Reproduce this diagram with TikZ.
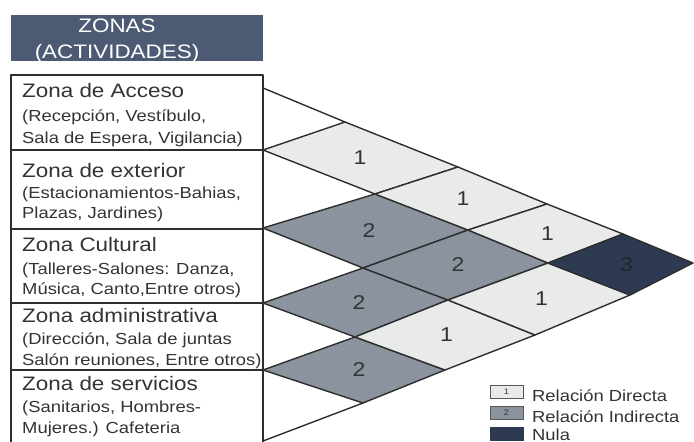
\documentclass[tikz,border=0pt]{standalone}
\usepackage{fontspec}
\setmainfont[FakeStretch=1.15]{Liberation Sans}
\usetikzlibrary{calc}

\definecolor{headblue}{HTML}{4D5A73}
\definecolor{relone}{HTML}{E9EBEA}
\definecolor{reltwo}{HTML}{8B939F}
\definecolor{relthree}{HTML}{2E3A52}
\definecolor{lineg}{HTML}{2E2E2E}
\definecolor{txtg}{HTML}{333333}

\tikzset{
  grid line/.style={draw=lineg, line width=1.4pt, line join=round},
  rel1/.style={grid line, fill=relone},
  rel2/.style={grid line, fill=reltwo},
  rel3/.style={grid line, fill=relthree},
  zona/.style={anchor=base west, inner sep=0pt, text=txtg, font=\fontsize{19.5}{22}\selectfont},
  desc/.style={anchor=base west, inner sep=0pt, text=txtg, font=\fontsize{16}{19}\selectfont},
  num/.style={inner sep=0pt, text=txtg, font=\fontsize{20}{22}\selectfont},
  head/.style={anchor=base, inner sep=0pt, text=white, font=\fontsize{19.5}{22}\selectfont},
  legbox/.style={draw=lineg!80, line width=0.9pt},
  legnum/.style={inner sep=0pt, text=txtg, font=\fontsize{8}{9}\selectfont},
}

\begin{document}
\begin{tikzpicture}[x=1pt, y=-1pt]
        \useasboundingbox (0,0) rectangle (694,442);
        \clip (0,0) rectangle (694,442);

        % --- Header ---
        \fill[headblue] (11,15) rectangle (263,61);
        \node[head] (tit1) at (117,32) {ZONAS};
        \node[head] (tit2) at (117,58) {(ACTIVIDADES)};

        % --- Zone boxes ---
        \draw[grid line] (11,460) -- (11,75) -- (263,75) -- (263,460);
        \foreach \y in {150,229,303,370}
            \draw[grid line] (11,\y) -- (263,\y);

        % Zona 1
        \node[zona] (z1) at (22,97) {Zona de Acceso};
        \node[desc] (z1a) at (22,121) {(Recepción, Vestíbulo,};
        \node[desc] (z1b) at (22,143) {Sala de Espera, Vigilancia)};
        % Zona 2
        \node[zona] (z2) at (22,177) {Zona de exterior};
        \node[desc] (z2a) at (22,198) {(Estacionamientos-Bahias,};
        \node[desc] (z2b) at (22,218) {Plazas, Jardines)};
        % Zona 3
        \node[zona] (z3) at (22,251) {Zona Cultural};
        \node[desc] (z3a) at (22,274) {(Talleres-Salones: Danza,};
        \node[desc] (z3b) at (22,294) {Música, Canto,Entre otros)};
        % Zona 4
        \node[zona] (z4) at (22,322) {Zona administrativa};
        \node[desc] (z4a) at (22,344) {(Dirección, Sala de juntas};
        \node[desc] (z4b) at (22,365) {Salón reuniones, Entre otros)};
        % Zona 5
        \node[zona] (z5) at (22,390) {Zona de servicios};
        \node[desc] (z5a) at (22,412) {(Sanitarios, Hombres-};
        \node[desc] (z5b) at (22,433) {Mujeres.) Cafeteria};

        % --- Lattice corners of the relation triangle ---
        \coordinate (v00) at (263,88);
        \coordinate (v11) at (263,150);
        \coordinate (v22) at (263,228);
        \coordinate (v33) at (263,303);
        \coordinate (v44) at (263,370);
        \coordinate (v55) at (263,441);
        \coordinate (v01) at (345,122);
        \coordinate (v02) at (458,167);
        \coordinate (v03) at (547,204);
        \coordinate (v04) at (623,234);
        \coordinate (v05) at (693,263);
        \coordinate (v12) at (375,194);
        \coordinate (v13) at (468,230);
        \coordinate (v14) at (548,263);
        \coordinate (v15) at (630,295);
        \coordinate (v23) at (363,268);
        \coordinate (v24) at (448,300);
        \coordinate (v25) at (535,335);
        \coordinate (v34) at (355,337);
        \coordinate (v35) at (445,370);
        \coordinate (v45) at (363,403);

        % outer edges
        \draw[grid line] (v00) -- (v01);
        \draw[grid line] (v45) -- (v55);

        % --- Relation cells ---
        \filldraw[rel1] (v01) -- (v02) -- (v12) -- (v11) -- cycle;
        \filldraw[rel2] (v12) -- (v13) -- (v23) -- (v22) -- cycle;
        \filldraw[rel2] (v23) -- (v24) -- (v34) -- (v33) -- cycle;
        \filldraw[rel2] (v34) -- (v35) -- (v45) -- (v44) -- cycle;
        \filldraw[rel1] (v02) -- (v03) -- (v13) -- (v12) -- cycle;
        \filldraw[rel2] (v13) -- (v14) -- (v24) -- (v23) -- cycle;
        \filldraw[rel1] (v24) -- (v25) -- (v35) -- (v34) -- cycle;
        \filldraw[rel1] (v03) -- (v04) -- (v14) -- (v13) -- cycle;
        \filldraw[rel1] (v14) -- (v15) -- (v25) -- (v24) -- cycle;
        \filldraw[rel3] (v04) -- (v05) -- (v15) -- (v14) -- cycle;

        % cell values
        \node[num] (c12) at ($(v01)!.5!(v12)$) {1};
        \node[num] (c23) at ($(v12)!.5!(v23)$) {2};
        \node[num] (c34) at ($(v23)!.5!(v34)$) {2};
        \node[num] (c45) at ($(v34)!.5!(v45)$) {2};
        \node[num] (c13) at ($(v02)!.5!(v13)$) {1};
        \node[num] (c24) at ($(v13)!.5!(v24)$) {2};
        \node[num] (c35) at ($(v24)!.5!(v35)$) {1};
        \node[num] (c14) at ($(v03)!.5!(v14)$) {1};
        \node[num] (c25) at ($(v14)!.5!(v25)$) {1};
        \node[num, text=black!85] (c15) at ($(v04)!.5!(v15)$) {3};

        % --- Legend ---
        \filldraw[legbox, fill=relone] (490,385) rectangle (523,398);
        \node[legnum] (l1) at (506.5,391.5) {1};
        \filldraw[legbox, fill=reltwo] (490,406) rectangle (523,419);
        \node[legnum] (l2) at (506.5,412.5) {2};
        \filldraw[legbox, draw=relthree, fill=relthree] (490,427) rectangle (523,440);
        \node[legnum, text=black!80] (l3) at (506.5,433.5) {3};
        \node[desc] (t1) at (532,401) {Relación Directa};
        \node[desc] (t2) at (532,422) {Relación Indirecta};
        \node[desc] (t3) at (532,440) {Nula};

\end{tikzpicture}
\end{document}
